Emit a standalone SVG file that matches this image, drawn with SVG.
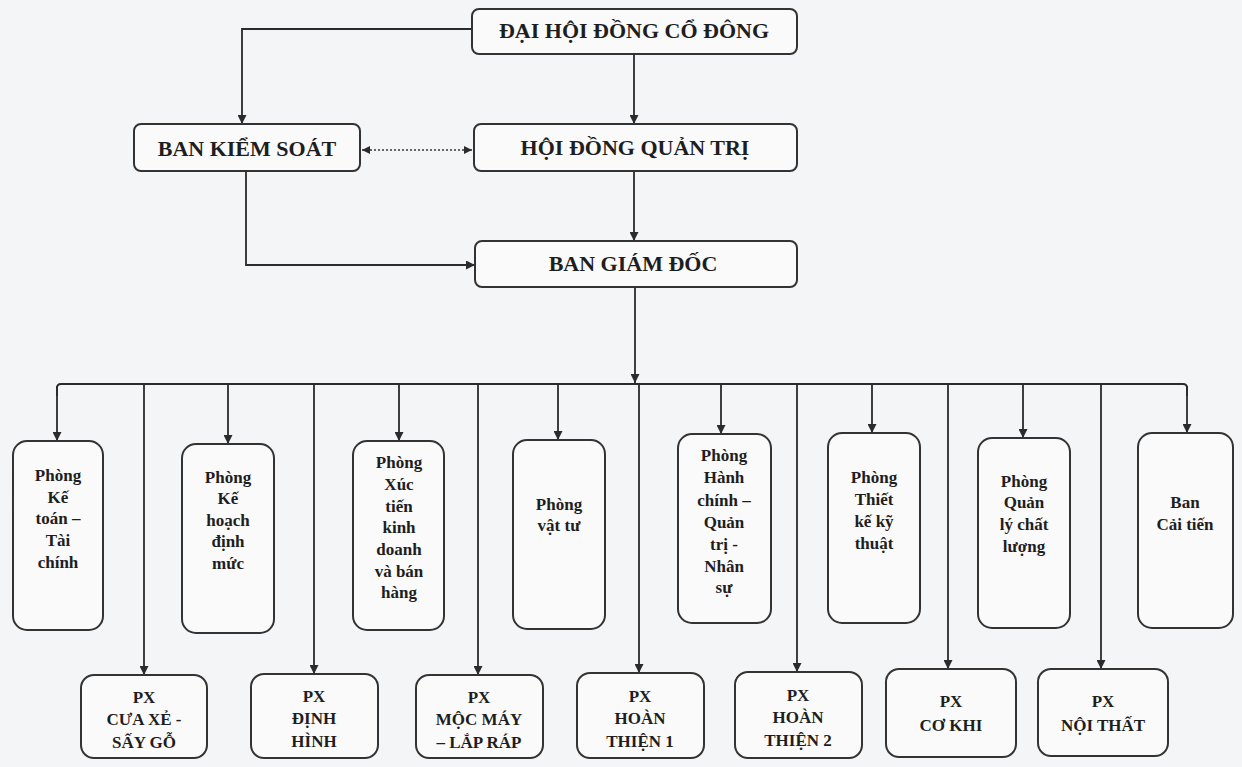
<svg xmlns="http://www.w3.org/2000/svg" width="1242" height="767" viewBox="0 0 1242 767">
<defs>
<marker id="ah" markerUnits="userSpaceOnUse" markerWidth="9" markerHeight="9" refX="8" refY="4" orient="auto-start-reverse" viewBox="0 0 8 8">
<path d="M0,0 L8,4 L0,8 z" fill="#2b2b2b"/>
</marker>
<marker id="ahs" markerUnits="userSpaceOnUse" markerWidth="8" markerHeight="8" refX="7" refY="3.5" orient="auto-start-reverse" viewBox="0 0 7 7">
<path d="M0,0 L7,3.5 L0,7 z" fill="#2b2b2b"/>
</marker>
</defs>
<style>
.bg{fill:#f4f5f7}
.box{fill:#fafafb;stroke:#333;stroke-width:2}
.t{font-family:"Liberation Serif","Times New Roman",serif;font-weight:bold;fill:#1e1e1e;text-anchor:middle}
.big{font-size:22px}
.sm{font-size:17px}
.ln{fill:none;stroke:#2b2b2b;stroke-width:1.8}
.arr{marker-end:url(#ah)}
.dot{fill:none;stroke:#333;stroke-width:1.5;stroke-dasharray:2 2;marker-start:url(#ahs);marker-end:url(#ahs)}
</style>
<rect class="bg" x="0" y="0" width="1242" height="767"/>

<g id="connectors">
<path class="ln arr" d="M472,29 H242 V124"/>
<path class="ln arr" d="M634,54 V124"/>
<path class="dot" d="M362,150 H472"/>
<path class="ln arr" d="M246,171 V265 H475"/>
<path class="ln arr" d="M634,171 V241"/>
<path class="ln arr" d="M635,287 V383"/>
<path class="ln" d="M57,396 V388 Q57,384 61,384 H1183 Q1187,384 1187,388 V396"/>
<path class="ln arr" d="M57,386 V441"/>
<path class="ln arr" d="M228,384 V444"/>
<path class="ln arr" d="M399,384 V441"/>
<path class="ln arr" d="M558,384 V440"/>
<path class="ln arr" d="M721,384 V434"/>
<path class="ln arr" d="M872,384 V433"/>
<path class="ln arr" d="M1023,384 V438"/>
<path class="ln arr" d="M1187,386 V433"/>
<path class="ln arr" d="M144,384 V675"/>
<path class="ln arr" d="M314,384 V674"/>
<path class="ln arr" d="M478,384 V675"/>
<path class="ln arr" d="M639,384 V673"/>
<path class="ln arr" d="M797,384 V672"/>
<path class="ln arr" d="M948,384 V669"/>
<path class="ln arr" d="M1101,384 V669"/>
</g>

<g id="dhdcd">
<rect class="box" x="472" y="9" width="325" height="45" rx="7"/>
<text class="t big" x="634" y="38">ĐẠI HỘI ĐỒNG CỔ ĐÔNG</text>
</g>
<g id="bks">
<rect class="box" x="134" y="124" width="226" height="47" rx="7"/>
<text class="t big" x="247" y="156">BAN KIỂM SOÁT</text>
</g>
<g id="hdqt">
<rect class="box" x="474" y="124" width="323" height="47" rx="7"/>
<text class="t big" x="635" y="155">HỘI ĐỒNG QUẢN TRỊ</text>
</g>
<g id="bgd">
<rect class="box" x="475" y="241" width="322" height="46" rx="7"/>
<text class="t big" x="633" y="271">BAN GIÁM ĐỐC</text>
</g>

<g id="p-ketoan">
<rect class="box" x="13" y="441" width="90" height="189" rx="14"/>
<text class="t sm" x="58"><tspan x="58" y="481">Phòng</tspan><tspan x="58" y="503">Kế</tspan><tspan x="58" y="524">toán –</tspan><tspan x="58" y="546">Tài</tspan><tspan x="58" y="568">chính</tspan></text>
</g>
<g id="p-kehoach">
<rect class="box" x="182" y="444" width="92" height="189" rx="14"/>
<text class="t sm" x="228"><tspan x="228" y="483">Phòng</tspan><tspan x="228" y="504">Kế</tspan><tspan x="228" y="526">hoạch</tspan><tspan x="228" y="547">định</tspan><tspan x="228" y="569">mức</tspan></text>
</g>
<g id="p-xuctien">
<rect class="box" x="353" y="441" width="91" height="189" rx="14"/>
<text class="t sm" x="399"><tspan x="399" y="468">Phòng</tspan><tspan x="399" y="490">Xúc</tspan><tspan x="399" y="512">tiến</tspan><tspan x="399" y="533">kinh</tspan><tspan x="399" y="555">doanh</tspan><tspan x="399" y="577">và bán</tspan><tspan x="399" y="598">hàng</tspan></text>
</g>
<g id="p-vattu">
<rect class="box" x="513" y="440" width="92" height="189" rx="14"/>
<text class="t sm" x="559"><tspan x="559" y="510">Phòng</tspan><tspan x="559" y="531">vật tư</tspan></text>
</g>
<g id="p-hanhchinh">
<rect class="box" x="678" y="434" width="93" height="189" rx="14"/>
<text class="t sm" x="724"><tspan x="724" y="461">Phòng</tspan><tspan x="724" y="483">Hành</tspan><tspan x="724" y="506">chính –</tspan><tspan x="724" y="528">Quản</tspan><tspan x="724" y="550">trị -</tspan><tspan x="724" y="572">Nhân</tspan><tspan x="724" y="593">sự</tspan></text>
</g>
<g id="p-thietke">
<rect class="box" x="828" y="433" width="92" height="190" rx="14"/>
<text class="t sm" x="874"><tspan x="874" y="483">Phòng</tspan><tspan x="874" y="505">Thiết</tspan><tspan x="874" y="527">kế kỹ</tspan><tspan x="874" y="549">thuật</tspan></text>
</g>
<g id="p-chatluong">
<rect class="box" x="978" y="438" width="92" height="190" rx="14"/>
<text class="t sm" x="1024"><tspan x="1024" y="487">Phòng</tspan><tspan x="1024" y="508">Quản</tspan><tspan x="1024" y="530">lý chất</tspan><tspan x="1024" y="552">lượng</tspan></text>
</g>
<g id="b-caitien">
<rect class="box" x="1138" y="433" width="95" height="195" rx="14"/>
<text class="t sm" x="1185"><tspan x="1185" y="508">Ban</tspan><tspan x="1185" y="530">Cải tiến</tspan></text>
</g>

<g id="px-cuaxe">
<rect class="box" x="81" y="675" width="126" height="83" rx="13"/>
<text class="t sm" x="144"><tspan x="144" y="703">PX</tspan><tspan x="144" y="725">CƯA XẺ -</tspan><tspan x="144" y="748">SẤY GỖ</tspan></text>
</g>
<g id="px-dinhhinh">
<rect class="box" x="251" y="674" width="127" height="84" rx="13"/>
<text class="t sm" x="314"><tspan x="314" y="702">PX</tspan><tspan x="314" y="724">ĐỊNH</tspan><tspan x="314" y="747">HÌNH</tspan></text>
</g>
<g id="px-mocmay">
<rect class="box" x="416" y="675" width="127" height="83" rx="13"/>
<text class="t sm" x="479"><tspan x="479" y="703">PX</tspan><tspan x="479" y="725">MỘC MÁY</tspan><tspan x="479" y="748">– LẮP RÁP</tspan></text>
</g>
<g id="px-hoanthien1">
<rect class="box" x="577" y="673" width="127" height="85" rx="13"/>
<text class="t sm" x="640"><tspan x="640" y="702">PX</tspan><tspan x="640" y="724">HOÀN</tspan><tspan x="640" y="747">THIỆN 1</tspan></text>
</g>
<g id="px-hoanthien2">
<rect class="box" x="735" y="672" width="127" height="86" rx="13"/>
<text class="t sm" x="798"><tspan x="798" y="701">PX</tspan><tspan x="798" y="723">HOÀN</tspan><tspan x="798" y="746">THIỆN 2</tspan></text>
</g>
<g id="px-cokhi">
<rect class="box" x="886" y="669" width="130" height="88" rx="13"/>
<text class="t sm" x="951"><tspan x="951" y="707">PX</tspan><tspan x="951" y="731">CƠ KHI</tspan></text>
</g>
<g id="px-noithat">
<rect class="box" x="1038" y="669" width="130" height="87" rx="13"/>
<text class="t sm" x="1103"><tspan x="1103" y="707">PX</tspan><tspan x="1103" y="731">NỘI THẤT</tspan></text>
</g>
</svg>
